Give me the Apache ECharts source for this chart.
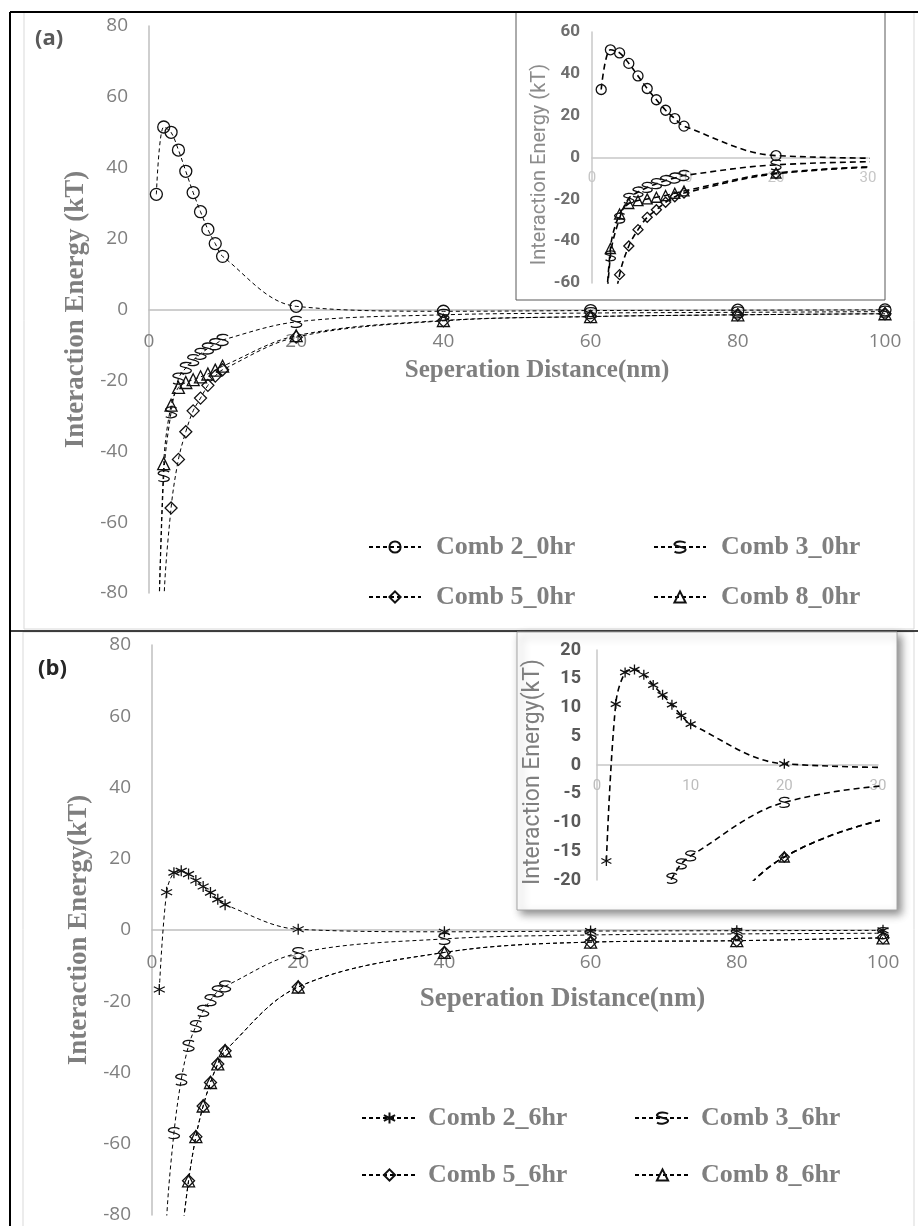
<!DOCTYPE html>
<html>
<head>
<meta charset="utf-8">
<script src="https://cdn.jsdelivr.net/npm/echarts@6.0.0/dist/echarts.min.js"></script>
<style>
  html, body { margin: 0; padding: 0; background: #fff; }
  #chart { width: 920px; height: 1226px; }
</style>
</head>
<body>
<div id="chart"></div>
<script>
// separation distance (nm)
const dist = [1, 2, 3, 4, 5, 6, 7, 8, 9, 10, 20, 40, 60, 80, 100]
const dist4 = [4, 5, 6, 7, 8, 9, 10, 20, 40, 60, 80, 100]

// (a) 0 hr, interaction energy (kT)
const comb2_0hr = [32.5, 51.5, 50, 45, 39, 33, 27.6, 22.6, 18.6, 15, 0.9, -0.5, -0.3, -0.2, -0.1]
const comb3_0hr = [-115, -47, -29, -19.5, -16.5, -14.3, -12.5, -11, -9.8, -8.6, -3.5, -1.5, -1, -0.8, -0.6]
const comb5_0hr = [-200, -84, -56, -42.3, -34.5, -28.6, -25, -21.4, -18.8, -17, -7.8, -3.2, -2, -1.5, -1.2]
const comb8_0hr = [-117, -43.5, -27, -22, -20.6, -19.8, -19, -18.2, -17.1, -16, -7.4, -3.1, -2, -1.5, -1.2]

// (b) 6 hr
const comb2_6hr = [-16.7, 10.6, 16.1, 16.6, 15.7, 13.9, 12.2, 10.5, 8.6, 7.1, 0.2, -0.5, -0.3, -0.2, -0.1]
const comb3_6hr = [-130, -81, -57, -42, -32.5, -27, -22.7, -19.7, -17.2, -15.8, -6.5, -2.5, -1.4, -1.1, -0.9]
const comb5_6hr = [-87, -70.4, -58, -49.4, -42.8, -37.6, -33.9, -16, -6.3, -3.4, -3, -2.2]
const comb8_6hr = [-87, -70.4, -58, -49.4, -42.8, -37.6, -33.9, -16, -6.3, -3.4, -3, -2.2]

const mainYTicks = { min: -80, max: 80, interval: 20 }
const xTicks = { min: 0, max: 100, interval: 20 }

const symS = 'path://M8,2C6,0 2,0 1,3C0,6 8,6 8,9C8,12 3,13 1,11'
const symStar = 'path://M5,0L5,10M0.7,2.5L9.3,7.5M0.7,7.5L9.3,2.5'

const pairs = (xs, ys) => xs.map((x, i) => [x, ys[i]])

function line(name, xs, ys, symbol, size, grid, inset) {
  return {
    name,
    type: 'line',
    xAxisIndex: grid,
    yAxisIndex: grid,
    data: pairs(xs, ys),
    smooth: 0.35,
    clip: true,
    symbol,
    symbolSize: size,
    showAllSymbol: true,
    lineStyle: { color: '#000', width: inset ? 1.6 : 1, type: inset ? [6, 4] : [4, 3] },
    itemStyle: { color: 'rgba(0,0,0,0)', borderColor: '#111', borderWidth: 1.3 },
    emphasis: { disabled: true },
  }
}

const grayLine = { lineStyle: { color: '#bfbfbf', width: 1.5 } }

// x axis drawn across the zero level: offset it up from the grid bottom
function mainX(grid, shift, gap, pad) {
  return {
    gridIndex: grid, type: 'value', ...xTicks, offset: shift,
    name: 'Seperation Distance(nm)', nameLocation: 'middle', nameGap: gap,
    nameTextStyle: { fontFamily: 'Liberation Serif', fontWeight: 'bold', fontSize: grid ? 27 : 25, color: '#7f7f7f', padding: [0, 0, 0, pad] },
    axisLine: { onZero: false, ...grayLine }, axisTick: { show: false }, splitLine: { show: false },
    axisLabel: { margin: 23, showMinLabel: true, fontFamily: 'Open Sans', fontSize: 19, color: '#7f7f7f' },
  }
}
function mainY(grid, name) {
  return {
    gridIndex: grid, type: 'value', ...mainYTicks,
    name, nameLocation: 'middle', nameGap: 58,
    nameTextStyle: { fontFamily: 'Liberation Serif', fontWeight: 'bold', fontSize: 27, color: '#7f7f7f' },
    axisLine: { show: true, ...grayLine }, axisTick: { show: false }, splitLine: { show: false },
    axisLabel: { margin: 21, fontFamily: 'Open Sans', fontSize: 19, color: '#7f7f7f' },
  }
}
function insetX(grid, shift, margin, color) {
  return {
    gridIndex: grid, type: 'value', min: 0, max: 30, interval: 10, offset: shift,
    axisLine: { onZero: false, lineStyle: { color: '#c8c8c8', width: 1.5 } }, axisTick: { show: false }, splitLine: { show: false },
    axisLabel: { margin, showMinLabel: true, fontFamily: 'Roboto', fontSize: 15, color },
  }
}

const legendText = { fontFamily: 'Liberation Serif', fontWeight: 'bold', fontSize: 26, color: '#7f7f7f', lineHeight: 28 }
function leg(name, left, cy, w, pad) {
  return {
    data: [name], left, top: cy - 14, itemWidth: w, itemHeight: 14,
    textStyle: { ...legendText, padding: [0, 0, 0, pad] },
  }
}

const chart = echarts.init(document.getElementById('chart'))
chart.setOption({
  animation: false,
  backgroundColor: '#fff',
  grid: [
    { left: 149, top: 26, width: 736, height: 567 },
    { left: 592, top: 32, width: 276, height: 251 },
    { left: 152, top: 645, width: 731, height: 570 },
    { left: 597, top: 650, width: 281, height: 230 },
  ],
  xAxis: [
    mainX(0, -283.5, 49, 40),
    insetX(1, -125.5, 13, '#c6c6c6'),
    mainX(2, -285, 56, 90),
    insetX(3, -115, 14, '#bdbdbd'),
  ],
  yAxis: [
    mainY(0, 'Interaction Energy (kT)'),
    {
      gridIndex: 1, type: 'value', min: -60, max: 60, interval: 20,
      name: 'Interaction Energy (kT)', nameLocation: 'middle', nameGap: 42,
      nameTextStyle: { fontFamily: 'Roboto', fontSize: 20, color: '#8c8c8c', padding: [0, 14, 0, 0] },
      axisLine: { show: true, lineStyle: { color: '#c8c8c8', width: 1.5 } }, axisTick: { show: false }, splitLine: { show: false },
      axisLabel: { margin: 12, fontFamily: 'Roboto', fontWeight: 'bold', fontSize: 17, color: '#6e6e6e' },
    },
    mainY(2, 'Interaction Energy(kT)'),
    {
      gridIndex: 3, type: 'value', min: -20, max: 20, interval: 5,
      name: 'Interaction Energy(kT)', nameLocation: 'middle', nameGap: 52,
      nameTextStyle: { fontFamily: 'Roboto', fontSize: 23, color: '#7f7f7f', padding: [0, 14, 0, 0] },
      axisLine: { show: true, lineStyle: { color: '#c8c8c8', width: 1.5 } }, axisTick: { show: false }, splitLine: { show: false },
      axisLabel: { margin: 16, fontFamily: 'Roboto', fontWeight: 'bold', fontSize: 18, color: '#595959' },
    },
  ],
  legend: [
    leg('Comb 2_0hr', 363, 542, 52, 10),
    leg('Comb 3_0hr', 648, 542, 52, 10),
    leg('Comb 5_0hr', 363, 592, 52, 10),
    leg('Comb 8_0hr', 648, 592, 52, 10),
    leg('Comb 2_6hr', 356, 1113, 55, 6),
    leg('Comb 3_6hr', 629, 1113, 55, 6),
    leg('Comb 5_6hr', 356, 1170, 55, 6),
    leg('Comb 8_6hr', 629, 1170, 55, 6),
  ],
  graphic: [
    { type: 'rect', z: -5, shape: { x: 24, y: 12, width: 890, height: 617 }, style: { fill: '#fff', stroke: '#d9d9d9', lineWidth: 1 } },
    { type: 'rect', z: -5, shape: { x: 23, y: 632, width: 891, height: 600 }, style: { fill: '#fff', stroke: '#d9d9d9', lineWidth: 1 } },
    { type: 'line', z: 50, shape: { x1: 10, y1: 12, x2: 918, y2: 12 }, style: { stroke: '#000', lineWidth: 2 } },
    { type: 'line', z: 50, shape: { x1: 10, y1: 12, x2: 10, y2: 1226 }, style: { stroke: '#000', lineWidth: 2 } },
    { type: 'line', z: -4, shape: { x1: 10, y1: 631, x2: 918, y2: 631 }, style: { stroke: '#000', lineWidth: 1.5 } },
    { type: 'rect', z: -3, shape: { x: 516, y: 12, width: 369, height: 288 }, style: { fill: '#fff', stroke: '#595959', lineWidth: 1 } },
    { type: 'rect', z: -3, shape: { x: 517, y: 632, width: 380, height: 278 },
      style: { fill: '#fff', stroke: '#a6a6a6', lineWidth: 1, shadowBlur: 8, shadowColor: 'rgba(0,0,0,0.45)', shadowOffsetX: 4, shadowOffsetY: 4 } },
    { type: 'text', left: 35, top: 28, style: { text: '(a)', font: 'bold 22px "Open Sans"', fill: '#595959' } },
    { type: 'text', left: 38, top: 658, style: { text: '(b)', font: 'bold 22px "Open Sans"', fill: '#262626' } },
  ],
  series: [
    line('Comb 2_0hr', dist, comb2_0hr, 'circle', 12, 0),
    line('Comb 3_0hr', dist, comb3_0hr, symS, 11, 0),
    line('Comb 5_0hr', dist, comb5_0hr, 'diamond', 12, 0),
    line('Comb 8_0hr', dist, comb8_0hr, 'triangle', 12, 0),
    line('Comb 2_0hr', dist, comb2_0hr, 'circle', 10, 1, true),
    line('Comb 3_0hr', dist, comb3_0hr, symS, 10, 1, true),
    line('Comb 5_0hr', dist, comb5_0hr, 'diamond', 10, 1, true),
    line('Comb 8_0hr', dist, comb8_0hr, 'triangle', 10, 1, true),
    line('Comb 2_6hr', dist, comb2_6hr, symStar, 11, 2),
    line('Comb 3_6hr', dist, comb3_6hr, symS, 11, 2),
    line('Comb 5_6hr', dist4, comb5_6hr, 'diamond', 12, 2),
    line('Comb 8_6hr', dist4, comb8_6hr, 'triangle', 12, 2),
    line('Comb 2_6hr', dist, comb2_6hr, symStar, 10, 3, true),
    line('Comb 3_6hr', dist, comb3_6hr, symS, 10, 3, true),
    line('Comb 5_6hr', dist4, comb5_6hr, 'diamond', 10, 3, true),
    line('Comb 8_6hr', dist4, comb8_6hr, 'triangle', 10, 3, true),
  ],
})
</script>
</body>
</html>
